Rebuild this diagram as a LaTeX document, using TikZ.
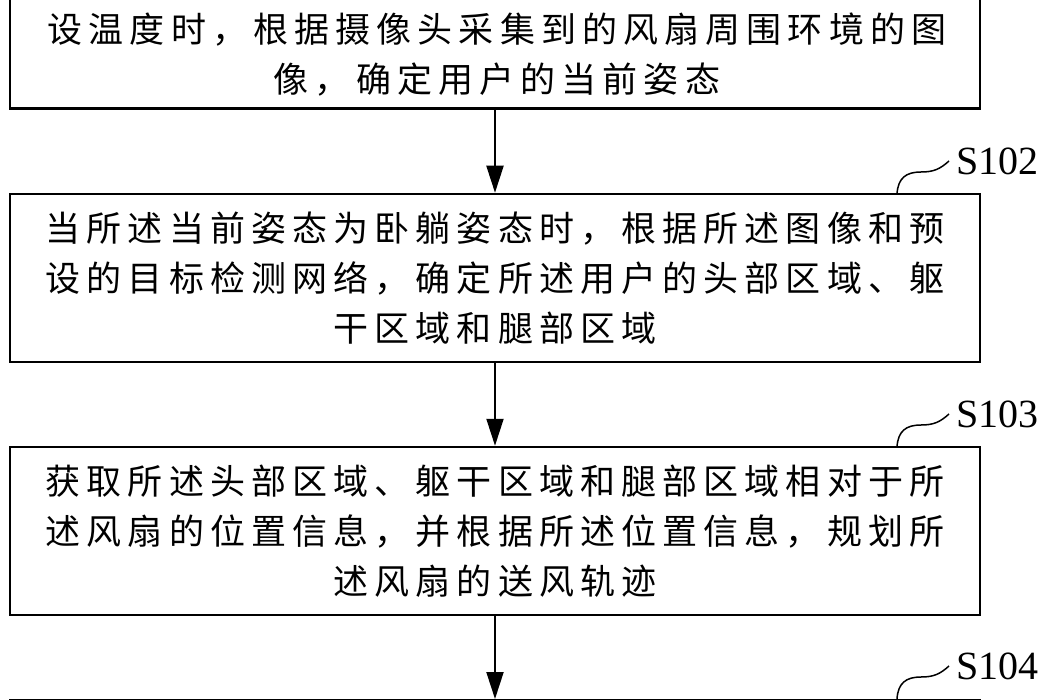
\documentclass[tikz,border=0pt]{standalone}
\usepackage{fontspec}
\setmainfont{Liberation Serif}
\newfontfamily\cjk[LetterSpace=17.5]{Noto Sans CJK SC}
\usetikzlibrary{arrows.meta}

\tikzset{
  stepbox/.style={draw, line width=1.25pt, minimum width=485pt, minimum height=84pt, inner sep=0pt},
  steptext/.style={align=center, font=\cjk\fontsize{17.5pt}{25pt}\selectfont},
  flow/.style={line width=1pt, -{Triangle[length=13.5pt,width=8.5pt]}},
  tag/.style={line width=0.75pt},
  taglabel/.style={anchor=west, inner sep=3.5pt, font=\fontsize{20pt}{24pt}\selectfont}
}

\begin{document}
\begin{tikzpicture}[x=0.5pt,y=-0.5pt]
  \useasboundingbox (0,0) rectangle (1050,700);

  % steps
  \node[stepbox, minimum height=85pt, anchor=south] (s1) at (495,110) {};
  \node[steptext] (t1) at (497,55) {设温度时，根据摄像头采集到的风扇周围环境的图\\像，确定用户的当前姿态};
  \node[stepbox, steptext] (s2) at (495,278) {当所述当前姿态为卧躺姿态时，根据所述图像和预\\设的目标检测网络，确定所述用户的头部区域、躯\\干区域和腿部区域};
  \node[stepbox, steptext] (s3) at (495,531) {获取所述头部区域、躯干区域和腿部区域相对于所\\述风扇的位置信息，并根据所述位置信息，规划所\\述风扇的送风轨迹};
  \node[stepbox, anchor=north] (s4) at (495,699) {};

  \draw[flow] (s1.south) -- (s2.north);
  \draw[flow] (s2.south) -- (s3.north);
  \draw[flow] (s3.south) -- (s4.north);

  % step labels
  \node[taglabel] (l2) at (949,161) {S102};
  \coordinate (c2) at (897,194);
  \draw[tag] (c2) .. controls (898,178) and (906,172) .. (921,172) .. controls (934,172) and (940,169) .. (l2.west);

  \node[taglabel] (l3) at (949,414) {S103};
  \coordinate (c3) at (897,447);
  \draw[tag] (c3) .. controls (898,431) and (906,425) .. (921,425) .. controls (934,425) and (940,422) .. (l3.west);

  \node[taglabel] (l4) at (949,666) {S104};
  \coordinate (c4) at (897,699);
  \draw[tag] (c4) .. controls (898,683) and (906,677) .. (921,677) .. controls (934,677) and (940,674) .. (l4.west);
\end{tikzpicture}
\end{document}
